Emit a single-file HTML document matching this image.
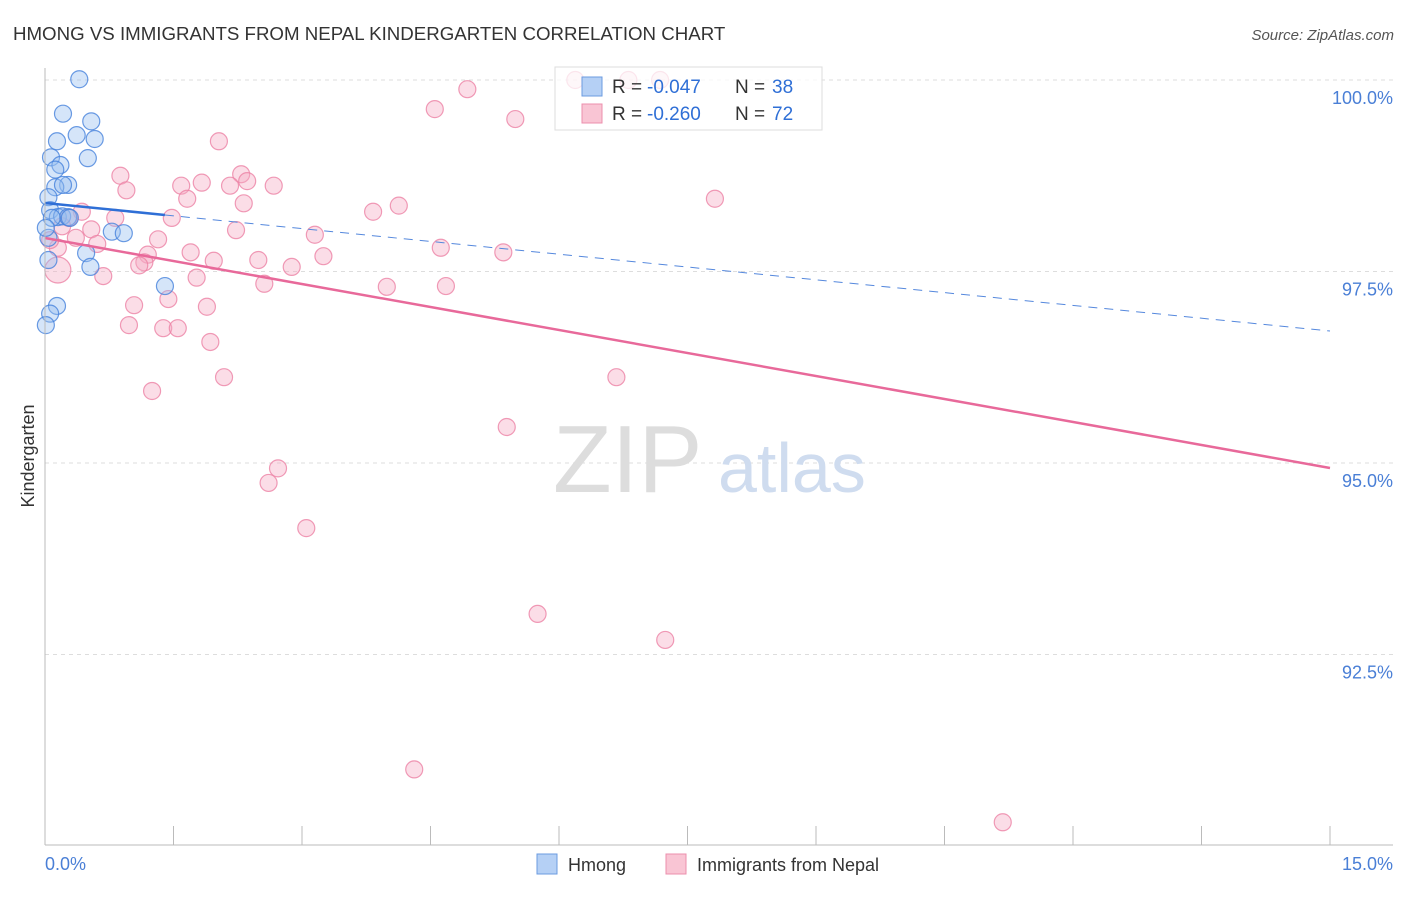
<!DOCTYPE html>
<html><head><meta charset="utf-8"><style>
body{margin:0;background:#fff;font-family:"Liberation Sans",sans-serif;}
svg text{font-family:"Liberation Sans",sans-serif;}
</style></head><body>
<svg width="1406" height="892">
<text x="13" y="40" font-size="18.7" fill="#333">HMONG VS IMMIGRANTS FROM NEPAL KINDERGARTEN CORRELATION CHART</text>
<text x="1394" y="40" font-size="15" fill="#555" font-style="italic" text-anchor="end">Source: ZipAtlas.com</text>
<g id="grid"></g>
<g><text x="553" y="492" font-size="96" fill="#ddd" font-family="Liberation Serif">ZIP</text><text x="718" y="492" font-size="70" fill="#cfdcef">atlas</text></g>
<g id="pts"></g>
<g id="lines"></g>
<line x1="45" y1="68" x2="45" y2="845" stroke="#bbb"/>
<line x1="45" y1="845" x2="1393" y2="845" stroke="#bbb"/>
<g id="ticks"></g>
<text x="45" y="870" font-size="18" fill="#4a7fd6">0.0%</text>
<text x="1393" y="870" font-size="18" fill="#4a7fd6" text-anchor="end">15.0%</text>
<text transform="translate(34,456) rotate(-90)" font-size="18" fill="#333" text-anchor="middle">Kindergarten</text>
<g>
<rect x="555" y="67" width="267" height="63" fill="#fff" fill-opacity="0.75" stroke="#ddd"/>
<rect x="582" y="77" width="20" height="19" fill="#b5d0f5" stroke="#6b9be0"/>
<rect x="582" y="104" width="20" height="19" fill="#f9c5d4" stroke="#ec8fad"/>
<text x="612" y="93" font-size="19" fill="#333">R =</text>
<text x="647" y="93" font-size="19" fill="#2f6fd6">-0.047</text>
<text x="735" y="93" font-size="19" fill="#333">N =</text>
<text x="772" y="93" font-size="19" fill="#2f6fd6">38</text>
<text x="612" y="120" font-size="19" fill="#333">R =</text>
<text x="647" y="120" font-size="19" fill="#2f6fd6">-0.260</text>
<text x="735" y="120" font-size="19" fill="#333">N =</text>
<text x="772" y="120" font-size="19" fill="#2f6fd6">72</text>
</g>
<g>
<rect x="537" y="854" width="20" height="20" fill="#b5d0f5" stroke="#6b9be0"/>
<text x="568" y="871" font-size="18" fill="#333">Hmong</text>
<rect x="666" y="854" width="20" height="20" fill="#f9c5d4" stroke="#ec8fad"/>
<text x="697" y="871" font-size="18" fill="#333">Immigrants from Nepal</text>
</g>
</svg>
<script>
const yTicks=[100,97.5,95,92.5];
const yTickLabels=["100.0%","97.5%","95.0%","92.5%"];
const xTicks=[0,1.5,3,4.5,6,7.5,9,10.5,12,13.5,15];
const hmongX=[0.40,0.21,0.54,0.37,0.14,0.58,0.50,0.07,0.18,0.12,0.27,0.12,0.21,0.04,0.06,0.15,0.20,0.27,0.08,0.04,0.78,0.92,0.48,0.53,0.04,0.14,0.06,0.01,1.40,0.01,0.29];
const hmongY=[100.01,99.56,99.46,99.28,99.20,99.23,98.98,98.99,98.89,98.83,98.63,98.60,98.63,98.47,98.30,98.21,98.22,98.21,98.20,97.94,98.02,98.00,97.74,97.56,97.65,97.05,96.95,96.80,97.31,98.07,98.20];
const nepalX=[0.15,6.19,6.81,7.18,4.93,4.55,5.49,2.03,0.88,0.95,2.29,2.36,1.59,1.83,2.16,2.67,1.66,2.32,7.82,4.13,3.83,1.48,0.82,0.43,0.28,0.54,2.23,3.15,1.32,0.61,4.62,5.35,1.70,1.20,1.16,1.10,2.49,1.97,3.25,2.88,0.68,1.77,2.56,3.99,4.68,1.44,1.04,1.89,0.98,1.38,1.55,1.93,6.67,2.09,1.25,5.39,2.72,2.61,3.05,5.75,7.24,4.31,11.18,0.15,0.36,0.20,0.06];
const nepalY=[97.52,100.0,100.0,100.0,99.88,99.62,99.49,99.20,98.75,98.56,98.77,98.68,98.62,98.66,98.62,98.62,98.45,98.39,98.45,98.36,98.28,98.20,98.20,98.28,98.20,98.05,98.04,97.98,97.92,97.86,97.81,97.75,97.75,97.72,97.62,97.58,97.65,97.64,97.70,97.56,97.44,97.42,97.34,97.30,97.31,97.14,97.06,97.04,96.80,96.76,96.76,96.58,96.12,96.12,95.94,95.47,94.93,94.74,94.15,93.03,92.69,91.00,90.31,97.81,97.94,98.09,97.91];
const hmongTrend=[98.394,96.723];
const nepalTrend=[97.937,94.935];
const NS="http://www.w3.org/2000/svg";
const sx=v=>45+v/15*1285, sy=v=>80+(100-v)*76.6;
function mk(t,a,p){const e=document.createElementNS(NS,t);for(const k in a)e.setAttribute(k,a[k]);p.appendChild(e);return e;}
const grid=document.getElementById('grid');
yTicks.forEach((t,i)=>{
 const l=mk('line',{x1:45,x2:1393,y1:sy(t),y2:sy(t),stroke:'#ddd','stroke-dasharray':'4,4'},grid);
 
 
 const tx=mk('text',{x:1393,y:sy(t)+24,'font-size':18,fill:'#4a7fd6','text-anchor':'end'},grid);
 tx.textContent=yTickLabels[i];
 
 
});
const ticks=document.getElementById('ticks');
xTicks.forEach(t=>{
 const l=mk('line',{x1:sx(t),x2:sx(t),y1:826,y2:845,stroke:'#bbb'},ticks);
 
 
});
const pts=document.getElementById('pts');
nepalX.forEach((x,i)=>{
 const c=mk('circle',{cx:sx(x),cy:sy(nepalY[i]),r:i==0?13:8.5,fill:'rgba(246,170,195,0.4)',stroke:'rgba(236,130,165,0.8)','stroke-width':1.2},pts);
 
 
});
hmongX.forEach((x,i)=>{
 const c=mk('circle',{cx:sx(x),cy:sy(hmongY[i]),r:8.5,fill:'rgba(150,190,240,0.4)',stroke:'rgba(70,130,220,0.8)','stroke-width':1.2},pts);
 
 
});
const lines=document.getElementById('lines');
const hy=x=>hmongTrend[0]+(hmongTrend[1]-hmongTrend[0])*x/15;
let l1=mk('line',{x1:sx(0),y1:sy(hy(0)),x2:sx(1.4),y2:sy(hy(1.4)),stroke:'#2f6fd6','stroke-width':2.5},lines);


let l2=mk('line',{x1:sx(1.4),y1:sy(hy(1.4)),x2:sx(15),y2:sy(hy(15)),stroke:'#5588dd','stroke-width':1,'stroke-dasharray':'9,7'},lines);


let l3=mk('line',{x1:sx(0),y1:sy(nepalTrend[0]),x2:sx(15),y2:sy(nepalTrend[1]),stroke:'#e8699a','stroke-width':2.5},lines);


</script>
</body></html>
